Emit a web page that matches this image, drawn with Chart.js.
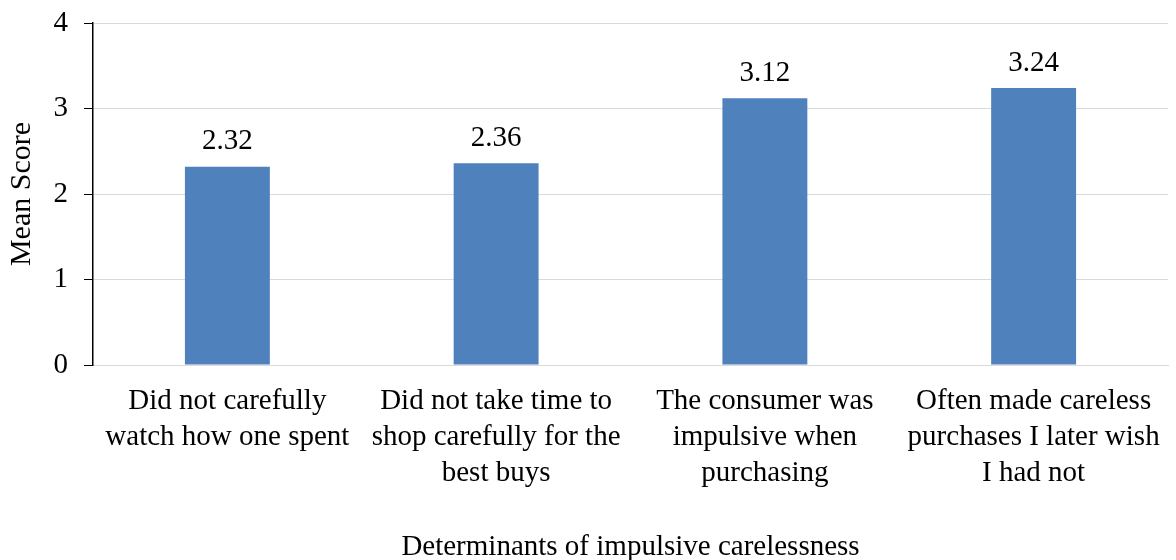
<!DOCTYPE html>
<html>
<head>
<meta charset="utf-8">
<script src="https://cdn.jsdelivr.net/npm/chart.js@4"></script>
<style>
    html, body { margin: 0; padding: 0; background: #ffffff; }
    #wrap { width: 1176px; height: 560px; }
</style>
</head>
<body>
<div id="wrap"><canvas id="meanChart" width="1176" height="560"></canvas></div>
<script>
// values
const categories = [
    ['Did not carefully', 'watch how one spent'],
    ['Did not take time to', 'shop carefully for the', 'best buys'],
    ['The consumer was', 'impulsive when', 'purchasing'],
    ['Often made careless', 'purchases I later wish', 'I had not'],
];
const meanScores = [2.32, 2.36, 3.12, 3.24];
const yTicks = [0, 1, 2, 3, 4];

const serif = "'Liberation Serif', 'Times New Roman', serif";

// draws the value above each bar (no datalabels plugin offline)
const barValueLabels = {
    id: 'barValueLabels',
    afterDatasetsDraw(chart) {
        const ctx = chart.ctx;
        const meta = chart.getDatasetMeta(0);
        ctx.save();
        ctx.font = `29px ${serif}`;
        ctx.fillStyle = '#000000';
        ctx.textAlign = 'center';
        ctx.textBaseline = 'middle';
        meta.data.forEach((bar, i) => {
            ctx.fillText(meanScores[i].toFixed(2), bar.x, bar.y - 25);
        });
        ctx.restore();
    }
};

new Chart(document.getElementById('meanChart'), {
    type: 'bar',
    data: {
        labels: categories,
        datasets: [
            {
                data: meanScores,
                backgroundColor: '#4F81BD',
                borderWidth: 0,
                barPercentage: 0.316,
                categoryPercentage: 1,
            }
        ]
    },
    options: {
        responsive: false,
        animation: false,
        devicePixelRatio: 1,
        layout: { padding: { top: 23, right: 8, bottom: 0, left: 0 } },
        plugins: {
            legend: { display: false },
            tooltip: { enabled: false },
        },
        scales: {
            x: {
                grid: { display: false },
                border: { color: '#D9D9D9', width: 1 },
                ticks: {
                    color: '#000000',
                    font: { family: serif, size: 29, lineHeight: 1.25 },
                    padding: 10,
                    maxRotation: 0,
                    autoSkip: false,
                },
                title: {
                    display: true,
                    text: 'Determinants of impulsive carelessness',
                    color: '#000000',
                    font: { family: serif, size: 29, lineHeight: 0.9 },
                    padding: { top: 0, bottom: 0 },
                },
                afterFit(scale) {
                    scale.height = 195;
                    scale.paddingLeft = 0;
                    scale.paddingRight = 0;
                },
            },
            y: {
                min: 0,
                max: 4,
                afterBuildTicks(scale) {
                    scale.ticks = yTicks.map((v) => ({ value: v }));
                },
                grid: {
                    color: '#D9D9D9',
                    tickColor: '#000000',
                    tickLength: 9,
                    lineWidth: 1,
                },
                border: { color: '#000000', width: 1.5 },
                ticks: {
                    color: '#000000',
                    font: { family: serif, size: 29 },
                    padding: 16,
                },
                title: {
                    display: true,
                    text: 'Mean Score',
                    color: '#000000',
                    font: { family: serif, size: 30, lineHeight: 1.2 },
                    padding: { top: 4, bottom: 0 },
                },
                afterFit(scale) {
                    scale.width = 93;
                    scale.paddingTop = 0;
                    scale.paddingBottom = 0;
                },
            }
        }
    },
    plugins: [barValueLabels]
});
</script>
</body>
</html>
